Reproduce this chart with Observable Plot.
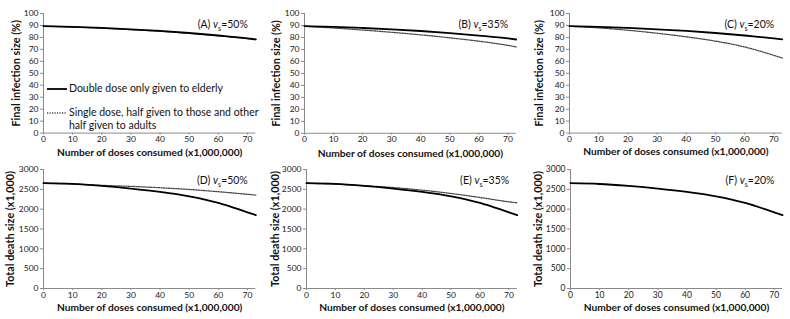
<!DOCTYPE html>
<html><head><meta charset="utf-8">
<script src="https://cdn.jsdelivr.net/npm/d3@7"></script>
<script src="https://cdn.jsdelivr.net/npm/@observablehq/plot@0.6"></script>
<style>
body{margin:0;background:#fff;}
#fig{position:relative;width:790px;height:319px;overflow:hidden;font-family:Lato,sans-serif;background:#fff;}
.panel{position:absolute;}
.legend{position:absolute;font-family:Lato,sans-serif;font-size:10.5px;color:#111;line-height:13px;}
.legend .item{position:absolute;white-space:nowrap;}
.legend svg{position:absolute;left:0;}
.legend span{position:absolute;left:22px;top:0;}
</style></head><body><div id="fig"></div>
<script>
// ---- data ----
const doses = [0, 10, 20, 30, 40, 50, 60, 70, 72.85];
const infDouble    = [89.4, 88.8, 87.9, 86.8, 85.4, 83.7, 81.6, 79.2, 78.3];
const infSingle50  = [89.4, 88.7, 87.7, 86.5, 85.1, 83.4, 81.4, 79.0, 78.2];
const infSingle35  = [89.4, 87.9, 86.2, 84.3, 82.2, 79.7, 76.9, 73.4, 72.2];
const infSingle20  = [89.3, 88.0, 86.0, 83.5, 80.5, 76.9, 72.0, 65.0, 62.8];
const deathDouble  = [2655, 2635, 2585, 2520, 2437, 2325, 2160, 1920, 1850];
const deathSingle50 = [2655, 2635, 2600, 2575, 2540, 2497, 2440, 2375, 2355];
const deathSingle35 = [2655, 2630, 2590, 2545, 2480, 2395, 2295, 2185, 2160];
const doseTicks  = [0, 10, 20, 30, 40, 50, 60, 70];
const infTicks   = [0, 10, 20, 30, 40, 50, 60, 70, 80, 90, 100];
const deathTicks = [0, 500, 1000, 1500, 2000, 2500, 3000];
const panelLetters = ["A", "B", "C", "D", "E", "F"];
const panelVs = ["50%", "35%", "20%", "50%", "35%", "20%"];
const xTitle = "Number of doses consumed (x1,000,000)";
const infTitle = "Final infection size (%)";
const deathTitle = "Total death size (x1,000)";
const legendLabels = ["Double dose only given to elderly", "Single dose, half given to those and other\nhalf given to adults"];

// ---- layout ----
const panels = [
  {solid: infDouble,   dotted: infSingle50,  yTicks: infTicks,   yDom: [0, 100],  yTitle: infTitle,   x0: 42.7, x1: 255, y0: 12.7, y1: 132.3, ytdx: -27, xtdy: 20},
  {solid: infDouble,   dotted: infSingle35,  yTicks: infTicks,   yDom: [0, 100],  yTitle: infTitle,   x0: 304.3, x1: 516, y0: 12.7, y1: 132.5, ytdx: -28, xtdy: 20},
  {solid: infDouble,   dotted: infSingle20,  yTicks: infTicks,   yDom: [0, 100],  yTitle: infTitle,   x0: 569.3, x1: 782, y0: 12.7, y1: 132.3, ytdx: -30, xtdy: 19},
  {solid: deathDouble, dotted: deathSingle50, yTicks: deathTicks, yDom: [0, 3000], yTitle: deathTitle, x0: 42.7, x1: 255, y0: 169.3, y1: 288.3, ytdx: -33, xtdy: 19.5},
  {solid: deathDouble, dotted: deathSingle35, yTicks: deathTicks, yDom: [0, 3000], yTitle: deathTitle, x0: 306, x1: 516.7, y0: 169.3, y1: 288.3, ytdx: -31, xtdy: 19.5},
  {solid: deathDouble, dotted: null,         yTicks: deathTicks, yDom: [0, 3000], yTitle: deathTitle, x0: 570, x1: 782, y0: 169.3, y1: 288.3, ytdx: -32, xtdy: 19.5}
];

const fig = document.getElementById("fig");
const mL = 42, mR = 8, mT = 12, mB = 30;

panels.forEach((p, i) => {
  const label = `(${panelLetters[i]}) vs=${panelVs[i]}`;
  const solidRows = doses.map((d, k) => ({d, v: p.solid[k]}));
  const marks = [
    Plot.ruleY([0], {stroke: "#8a8a8a"}),
    Plot.ruleX([0], {stroke: "#8a8a8a"}),
    Plot.axisX({ticks: doseTicks, tickSize: 2, tickPadding: 1, stroke: "#8a8a8a", fill: "#222", label: null, fontSize: 8.5, tickFormat: d => String(d)}),
    Plot.axisY({ticks: p.yTicks, tickSize: 3, tickPadding: 2, stroke: "#8a8a8a", fill: "#222", label: null, fontSize: 8.5, tickFormat: d => String(d)}),
    Plot.text([xTitle], {frameAnchor: "bottom", lineAnchor: "middle", dy: p.xtdy, fontWeight: "bold", fontSize: 10.2, fill: "#111"}),
    Plot.text([p.yTitle], {frameAnchor: "left", textAnchor: "middle", lineAnchor: "middle", rotate: -90, dx: p.ytdx, fontWeight: "bold", fontSize: 10.8, fill: "#111"}),
    Plot.text([label], {frameAnchor: "top-right", textAnchor: "end", lineAnchor: "middle", dx: -8, dy: 11, fontSize: 10.5, fill: "#111"})
  ];
  if (p.dotted) {
    const dotRows = doses.map((d, k) => ({d, v: p.dotted[k]}));
    marks.push(Plot.line(dotRows, {x: "d", y: "v", stroke: "#444", strokeWidth: 1.3, strokeDasharray: "1.2,1.3", curve: "monotone-x"}));
  }
  marks.push(Plot.line(solidRows, {x: "d", y: "v", stroke: "#000", strokeWidth: 1.8, curve: "monotone-x"}));

  const w = (p.x1 - p.x0) + mL + mR;
  const h = (p.y1 - p.y0) + mT + mB;
  const svg = Plot.plot({
    width: w, height: h,
    marginLeft: mL, marginRight: mR, marginTop: mT, marginBottom: mB,
    x: {domain: [0, 72.85]},
    y: {domain: p.yDom},
    style: {fontFamily: "Lato, sans-serif", fontSize: "8.5px", color: "#222", overflow: "visible", background: "transparent"},
    marks
  });
  // italic v with subscript s in the panel label
  for (const t of svg.querySelectorAll("text")) {
    if (t.textContent === label) {
      t.textContent = "";
      const ns = "http://www.w3.org/2000/svg";
      const parts = [
        {txt: `(${panelLetters[i]}) `},
        {txt: "v", italic: true},
        {txt: "s", size: 7, dy: 3},
        {txt: "=" + panelVs[i], dy: -3}
      ];
      for (const pt of parts) {
        const ts = document.createElementNS(ns, "tspan");
        ts.textContent = pt.txt;
        if (pt.italic) ts.setAttribute("font-style", "italic");
        if (pt.size) ts.setAttribute("font-size", pt.size);
        if (pt.dy) ts.setAttribute("dy", pt.dy);
        t.appendChild(ts);
      }
    }
  }
  const wrap = document.createElement("div");
  wrap.className = "panel";
  wrap.style.left = (p.x0 - mL) + "px";
  wrap.style.top = (p.y0 - mT) + "px";
  wrap.appendChild(svg);
  fig.appendChild(wrap);
});

// legend in panel A
const leg = document.createElement("div");
leg.className = "legend";
leg.style.left = "47px";
leg.style.top = "82px";
leg.innerHTML = `
 <div class="item" style="top:0px"><svg width="20" height="14"><line x1="0" y1="7" x2="20" y2="7" stroke="#000" stroke-width="1.8"/></svg><span>${legendLabels[0]}</span></div>
 <div class="item" style="top:24px"><svg width="20" height="14"><line x1="0" y1="7" x2="20" y2="7" stroke="#444" stroke-width="1.3" stroke-dasharray="1.2,1.3"/></svg><span>${legendLabels[1].replace("\n", "<br>")}</span></div>`;
fig.appendChild(leg);
</script>
</body></html>
